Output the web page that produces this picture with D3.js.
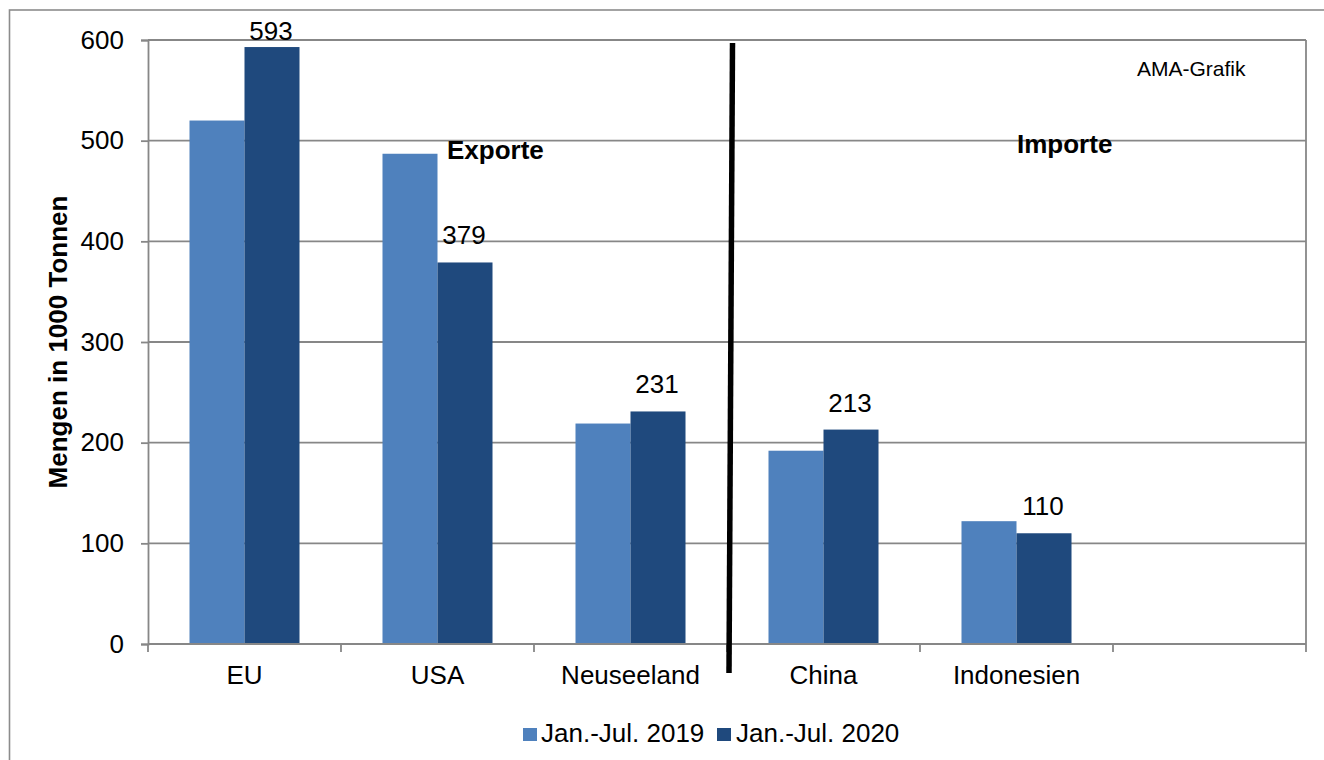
<!DOCTYPE html>
<html>
<head>
<meta charset="utf-8">
<script src="https://cdn.jsdelivr.net/npm/d3@7"></script>
<style>
  html, body { margin: 0; padding: 0; background: #fff; }
  svg { display: block; font-family: "Liberation Sans", Arial, sans-serif; }
</style>
</head>
<body>
<svg id="chart" width="1324" height="760"></svg>
<script>
const categories = ["EU", "USA", "Neuseeland", "China", "Indonesien", ""];
const seriesNames = ["Jan.-Jul. 2019", "Jan.-Jul. 2020"];
const values2019 = [520, 487, 219, 192, 122, null];
const values2020 = [593, 379, 231, 213, 110, null];
const yTicks = [0, 100, 200, 300, 400, 500, 600];
const colors = ["#4F81BD", "#1F497D"];

const svg = d3.select("#chart");
const W = 1324, H = 760;
const m = { left: 148, right: 1306, top: 40, bottom: 644 };
const gridColor = "#878787";

// outer frame
svg.append("rect").attr("x", 9.5).attr("y", 10).attr("width", 1340).attr("height", 800)
  .attr("fill", "#fff").attr("stroke", "#8c8c8c").attr("stroke-width", 1.6);

const x0 = d3.scaleBand().domain(categories).range([m.left, m.right])
  .paddingInner(0.43).paddingOuter(0.215);
const x1 = d3.scaleBand().domain(seriesNames).range([0, x0.bandwidth()]);
const y = d3.scaleLinear().domain([0, 600]).range([m.bottom, m.top]);

// gridlines
svg.append("g").selectAll("line").data(yTicks.filter(d => d > 0)).join("line")
  .attr("x1", m.left).attr("x2", m.right)
  .attr("y1", d => y(d)).attr("y2", d => y(d))
  .attr("stroke", gridColor).attr("stroke-width", 1.8);

// right border
svg.append("line").attr("x1", m.right).attr("x2", m.right)
  .attr("y1", m.top).attr("y2", m.bottom)
  .attr("stroke", gridColor).attr("stroke-width", 1.8);

// bars
const rows = categories.map((c, i) => ({ c, vals: [values2019[i], values2020[i]] }));
const groups = svg.append("g").selectAll("g").data(rows).join("g")
  .attr("transform", d => `translate(${x0(d.c)},0)`);
groups.selectAll("rect")
  .data(d => d.vals.map((v, j) => ({ v, s: seriesNames[j], j })).filter(e => e.v != null))
  .join("rect")
  .attr("x", e => x1(e.s)).attr("width", x1.bandwidth())
  .attr("y", e => y(e.v)).attr("height", e => y(0) - y(e.v))
  .attr("fill", e => colors[e.j]);

// data labels (2020 only)
groups.filter(d => d.vals[1] != null).append("text")
  .attr("x", x1(seriesNames[1]) + x1.bandwidth() / 2 - 1)
  .attr("y", d => Math.max(y(d.vals[1]) - 18, y(600)))
  .attr("text-anchor", "middle").attr("font-size", 26).attr("fill", "#000")
  .text(d => d.vals[1]);

// y axis
const yAxis = svg.append("g").attr("transform", `translate(${m.left},0)`)
  .call(d3.axisLeft(y).tickValues(yTicks).tickSize(7).tickPadding(17));
yAxis.select(".domain").attr("stroke", gridColor).attr("stroke-width", 1.8);
yAxis.selectAll(".tick line").attr("stroke", gridColor).attr("stroke-width", 1.8);
yAxis.selectAll(".tick text").attr("font-size", 26).attr("fill", "#000")
  .attr("font-family", "Liberation Sans, Arial, sans-serif");

// x axis
const xAxis = svg.append("g").attr("transform", `translate(0,${m.bottom})`);
xAxis.append("line").attr("x1", m.left).attr("x2", m.right).attr("y1", 0).attr("y2", 0)
  .attr("stroke", gridColor).attr("stroke-width", 1.8);
const boundaries = categories.map(c => x0(c) - x0.step() * x0.paddingInner() / 2)
  .concat([m.right]);
boundaries[0] = m.left;
xAxis.selectAll("line.tk").data(boundaries).join("line").attr("class", "tk")
  .attr("x1", d => d).attr("x2", d => d).attr("y1", 0).attr("y2", 8)
  .attr("stroke", gridColor).attr("stroke-width", 1.8);
xAxis.selectAll("text").data(categories).join("text")
  .attr("x", d => x0(d) + x0.bandwidth() / 2).attr("y", 40)
  .attr("text-anchor", "middle").attr("font-size", 26).attr("fill", "#000")
  .text(d => d);

// y title
svg.append("text").attr("transform", "translate(67,342) rotate(-90)")
  .attr("text-anchor", "middle").attr("font-size", 26).attr("font-weight", "bold")
  .text("Mengen in 1000 Tonnen");

// annotations
svg.append("text").attr("x", 447).attr("y", 159).attr("font-size", 26)
  .attr("font-weight", "bold").text("Exporte");
svg.append("text").attr("x", 1017).attr("y", 153).attr("font-size", 26)
  .attr("font-weight", "bold").text("Importe");
svg.append("text").attr("x", 1137).attr("y", 76).attr("font-size", 21).text("AMA-Grafik");

// divider line between exports and imports
const divX = x0("China") - x0.step() * x0.paddingInner() / 2;
svg.append("line").attr("x1", divX + 5.5).attr("y1", 43).attr("x2", divX + 2).attr("y2", 673)
  .attr("stroke", "#000").attr("stroke-width", 5.5);

// legend
const legend = svg.append("g");
const legendItems = [{ x: 523, tx: 541 }, { x: 717, tx: 736 }];
seriesNames.forEach((s, i) => {
  legend.append("rect").attr("x", legendItems[i].x).attr("y", 728)
    .attr("width", 14).attr("height", 13).attr("fill", colors[i]);
  legend.append("text").attr("x", legendItems[i].tx).attr("y", 742)
    .attr("font-size", 26).text(s);
});
</script>
</body>
</html>
